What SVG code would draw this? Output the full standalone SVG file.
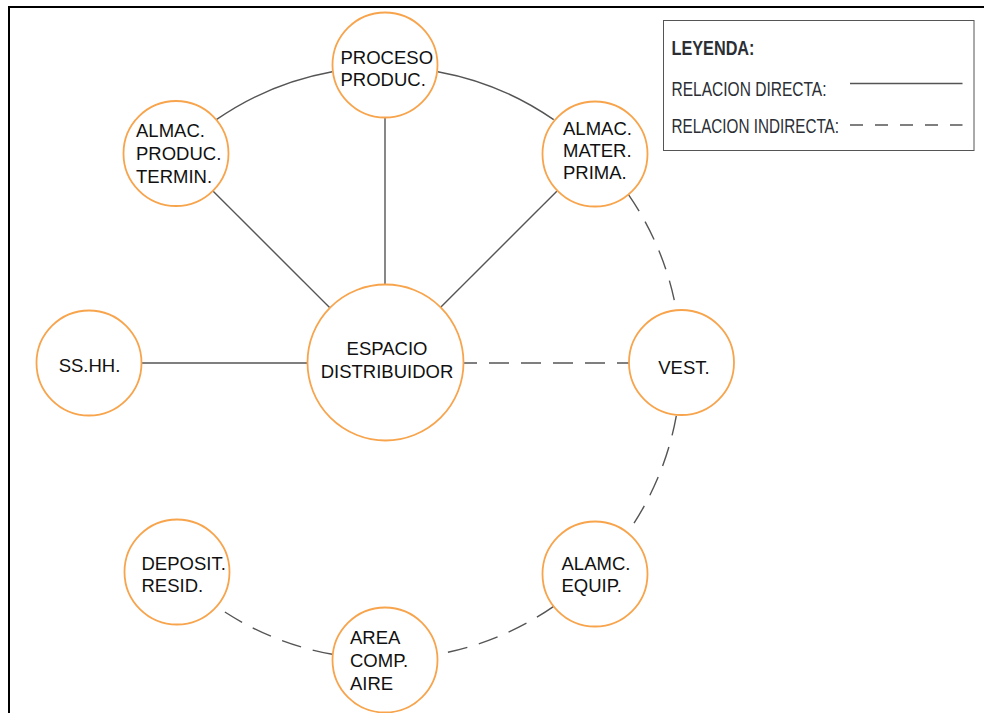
<svg xmlns="http://www.w3.org/2000/svg" width="984" height="713" viewBox="0 0 984 713">
  <style>
    .node { fill: #ffffff; stroke: #F7A44C; stroke-width: 1.8; }
    .lbl { font-family: "Liberation Sans", Arial, sans-serif; font-size: 18.5px; fill: #111111; }
    .mid { text-anchor: middle; }
    .solid { fill: none; stroke: #555555; stroke-width: 1.4; }
    .dash { fill: none; stroke: #555555; stroke-width: 1.4; stroke-dasharray: 20 12; }
    .leg { font-family: "Liberation Sans", Arial, sans-serif; font-size: 20px; fill: #2b2f35; }
  </style>

  <rect width="984" height="713" fill="#ffffff"/>
  <!-- page frame -->
  <path d="M9,713 V7 H984" fill="none" stroke="#000000" stroke-width="2"/>

  <!-- connectors: ring of radius 296 around the distributor plus spokes -->
  <g id="connectors">
    <path class="solid" d="M216.3,119.7 A296,296 0 0 1 332.2,71.7"/>
    <path class="solid" d="M437.8,71.7 A296,296 0 0 1 553.7,119.7"/>
    <line class="solid" x1="385" y1="118" x2="385" y2="285"/>
    <line class="solid" x1="213.2" y1="191.2" x2="329.8" y2="307.8"/>
    <line class="solid" x1="556.8" y1="191.2" x2="440.2" y2="307.8"/>
    <line class="solid" x1="141.5" y1="363" x2="307" y2="363"/>
    <line class="dash" x1="463" y1="363" x2="629" y2="363" stroke-dashoffset="6"/>
    <path class="dash" d="M628.3,194.3 A296,296 0 0 1 676.3,310.2"/>
    <path class="dash" d="M676.3,415.8 A296,296 0 0 1 628.3,531.7"/>
    <path class="dash" d="M553.7,606.3 A296,296 0 0 1 437.8,654.3"/>
    <path class="dash" d="M332.2,654.3 A296,296 0 0 1 216.3,606.3"/>
  </g>

  <g id="proceso">
    <circle class="node" cx="385" cy="65" r="52.5"/>
    <text class="lbl" x="340.5" y="64">PROCESO</text>
    <text class="lbl" x="340.5" y="86">PRODUC.</text>
  </g>

  <g id="almac-termin">
    <circle class="node" cx="176" cy="153.5" r="52.5"/>
    <text class="lbl" x="136" y="137">ALMAC.</text>
    <text class="lbl" x="136" y="160">PRODUC.</text>
    <text class="lbl" x="136" y="183">TERMIN.</text>
  </g>

  <g id="almac-prima">
    <circle class="node" cx="595" cy="154" r="52.5"/>
    <text class="lbl" x="563" y="135">ALMAC.</text>
    <text class="lbl" x="563" y="157">MATER.</text>
    <text class="lbl" x="563" y="179">PRIMA.</text>
  </g>

  <g id="espacio">
    <circle class="node" cx="385.5" cy="362.5" r="78"/>
    <text class="lbl mid" x="387" y="355">ESPACIO</text>
    <text class="lbl mid" x="387" y="377.5">DISTRIBUIDOR</text>
  </g>

  <g id="sshh">
    <circle class="node" cx="89" cy="363" r="52.5"/>
    <text class="lbl mid" x="89.5" y="371.5">SS.HH.</text>
  </g>

  <g id="vest">
    <circle class="node" cx="681.5" cy="362.5" r="52.5"/>
    <text class="lbl mid" x="684" y="374">VEST.</text>
  </g>

  <g id="equip">
    <circle class="node" cx="595" cy="574" r="52.5"/>
    <text class="lbl" x="561.5" y="570">ALAMC.</text>
    <text class="lbl" x="561.5" y="592">EQUIP.</text>
  </g>

  <g id="area">
    <circle class="node" cx="385" cy="660" r="52.5"/>
    <text class="lbl" x="350" y="643.5">AREA</text>
    <text class="lbl" x="350" y="667">COMP.</text>
    <text class="lbl" x="350" y="690">AIRE</text>
  </g>

  <g id="deposit">
    <circle class="node" cx="177" cy="572" r="52.5"/>
    <text class="lbl" x="141.5" y="570">DEPOSIT.</text>
    <text class="lbl" x="141.5" y="592">RESID.</text>
  </g>

  <!-- legend -->
  <g id="legend">
    <rect x="663.5" y="20.5" width="310.5" height="130" fill="#ffffff" stroke="#555555" stroke-width="1"/>
    <text class="leg" x="671.5" y="55" font-weight="bold" textLength="83" lengthAdjust="spacingAndGlyphs">LEYENDA:</text>
    <text class="leg" x="671.5" y="96" textLength="155" lengthAdjust="spacingAndGlyphs">RELACION DIRECTA:</text>
    <text class="leg" x="671.5" y="133" textLength="167.5" lengthAdjust="spacingAndGlyphs">RELACION INDIRECTA:</text>
    <line class="solid" x1="850" y1="83.5" x2="962.5" y2="83.5"/>
    <line class="solid" x1="850" y1="125" x2="962.5" y2="125" stroke-dasharray="13 12"/>
  </g>
</svg>
